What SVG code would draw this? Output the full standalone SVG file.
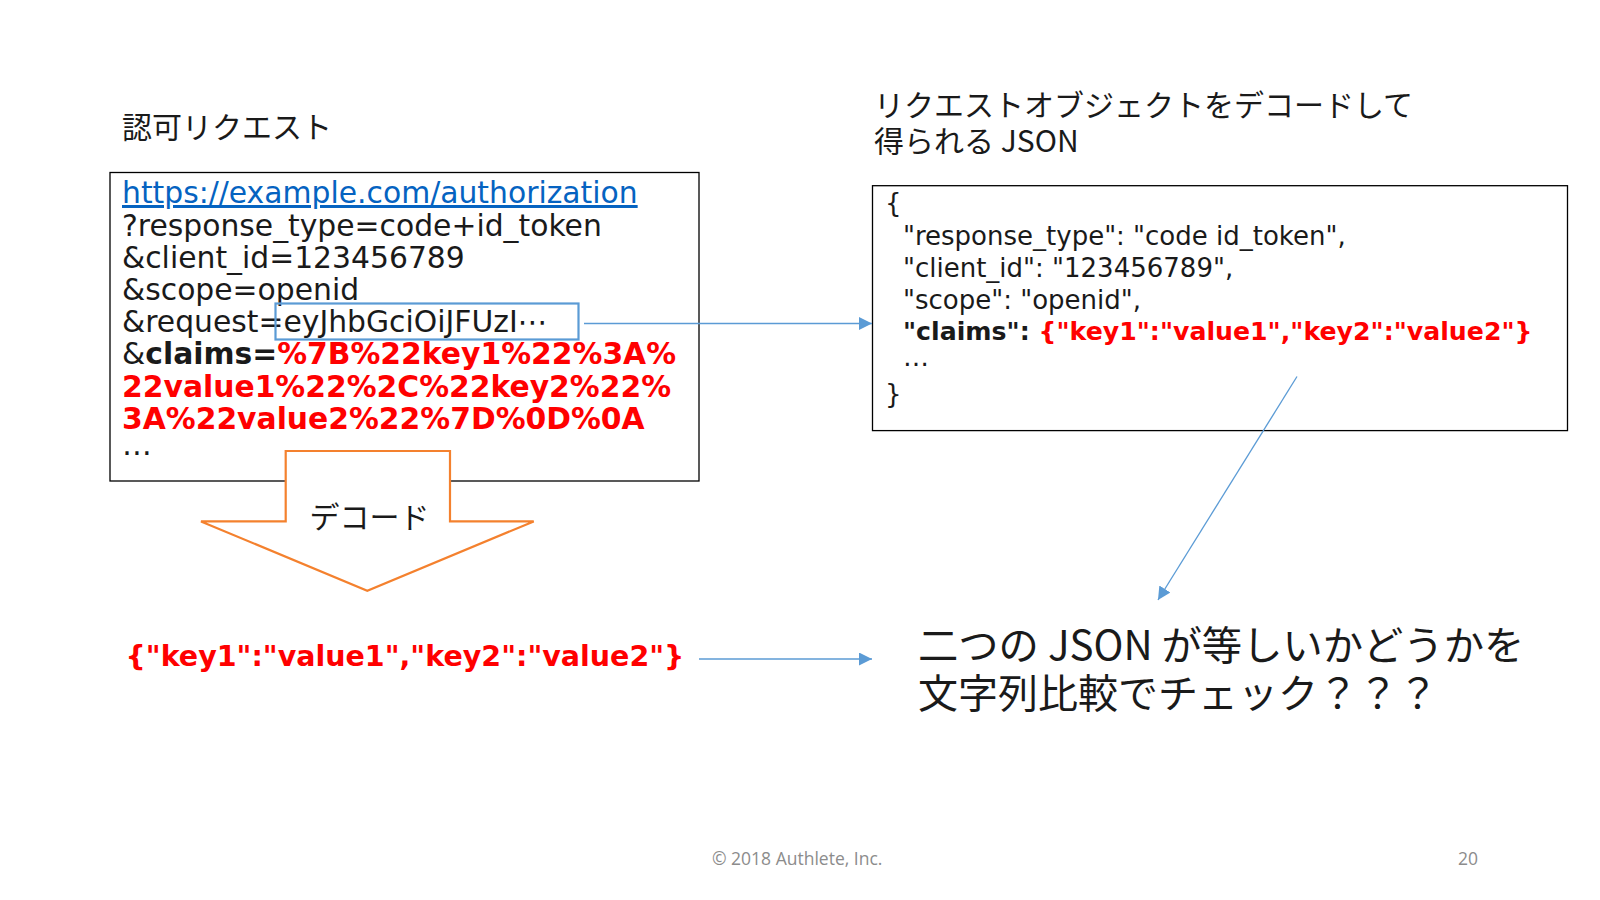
<svg xmlns="http://www.w3.org/2000/svg" width="1600" height="900" viewBox="0 0 1600 900">
<defs>
<style>
.jp{font-family:"Noto Sans CJK JP","Noto Sans",sans-serif;fill:#1a1a1a}
.lt{font-family:"DejaVu Sans","Noto Sans CJK JP",sans-serif;fill:#1a1a1a}
.red{fill:#ff0000;font-weight:bold}
.b{font-weight:bold}
.box{fill:#ffffff;stroke:#000000;stroke-width:1.3}
.conn{stroke:#5b9bd5;stroke-width:1.3;fill:none}
.foot{font-family:"Open Sans","Noto Sans",sans-serif;fill:#8c8c8c;font-size:17.5px}
</style>
<marker id="ah" viewBox="0 0 12 12" refX="12" refY="6" markerWidth="13" markerHeight="13" markerUnits="userSpaceOnUse" orient="auto">
<path d="M0,0 L12,6 L0,12 z" fill="#5b9bd5"/>
</marker>
</defs>
<rect width="1600" height="900" fill="#ffffff"/>

<g id="title-left">
<text class="jp" x="122" y="138" font-size="30">認可リクエスト</text>
</g>
<g id="title-right">
<text class="jp" x="874" y="116" font-size="30">リクエストオブジェクトをデコードして</text>
<text class="jp" x="874" y="152" font-size="30">得られる JSON</text>
</g>

<g id="auth-request">
<rect class="box" x="110" y="172.5" width="589" height="308.5"/>
<g class="lt" font-size="29.8">
<text x="122" y="203" text-decoration="underline" style="fill:#0563c1">https://example.com/authorization</text>
<text x="122" y="236">?response_type=code+id_token</text>
<text x="122" y="268">&amp;client_id=123456789</text>
<text x="122" y="300">&amp;scope=openid</text>
<text x="122" y="332">&amp;request=eyJhbGciOiJFUzI⋯</text>
<text x="122" y="364">&amp;<tspan class="b">claims=</tspan><tspan class="red">%7B%22key1%22%3A%</tspan></text>
<text x="122" y="397" class="red">22value1%22%2C%22key2%22%</text>
<text x="122" y="429" class="red">3A%22value2%22%7D%0D%0A</text>
<text x="122" y="455">…</text>
</g>
<rect x="275.5" y="303.5" width="303" height="36" fill="none" stroke="#5b9bd5" stroke-width="2.2"/>
</g>

<g id="decode-arrow">
<polygon points="285.7,451 450,451 450,521.4 533.7,521.4 367.3,590.8 201,521.4 285.7,521.4" fill="#ffffff" stroke="#f4812e" stroke-width="2.2" stroke-linejoin="miter"/>
<text class="jp" x="369.4" y="528" font-size="30" text-anchor="middle">デコード</text>
</g>

<g id="decoded-json">
<rect class="box" x="872.5" y="185.7" width="695" height="244.9"/>
<g class="lt" font-size="26">
<text x="885" y="212">{</text>
<text x="903" y="245">"response_type": "code id_token",</text>
<text x="903" y="277">"client_id": "123456789",</text>
<text x="903" y="309">"scope": "openid",</text>
<text x="903" y="340" font-size="25.2"><tspan class="b">"claims": </tspan><tspan class="red">{"key1":"value1","key2":"value2"}</tspan></text>
<text x="903" y="366">…</text>
<text x="885" y="403">}</text>
</g>
</g>

<g id="claims-string">
<text class="lt red" x="125.5" y="666" font-size="28.5">{"key1":"value1","key2":"value2"}</text>
</g>

<g id="question">
<text class="jp" x="918" y="660" font-size="40.3">二つの JSON が等しいかどうかを</text>
<text class="jp" x="918" y="708" font-size="40">文字列比較でチェック？？？</text>
</g>

<g id="connectors">
<line class="conn" x1="584" y1="323.5" x2="872" y2="323.5" marker-end="url(#ah)"/>
<line class="conn" x1="1297" y1="376.5" x2="1158" y2="600" marker-end="url(#ah)"/>
<line class="conn" x1="699" y1="659" x2="872" y2="659" marker-end="url(#ah)"/>
</g>

<g id="footer">
<text class="foot" x="712" y="865">© 2018 Authlete, Inc.</text>
<text class="foot" x="1478" y="865" text-anchor="end">20</text>
</g>
</svg>
